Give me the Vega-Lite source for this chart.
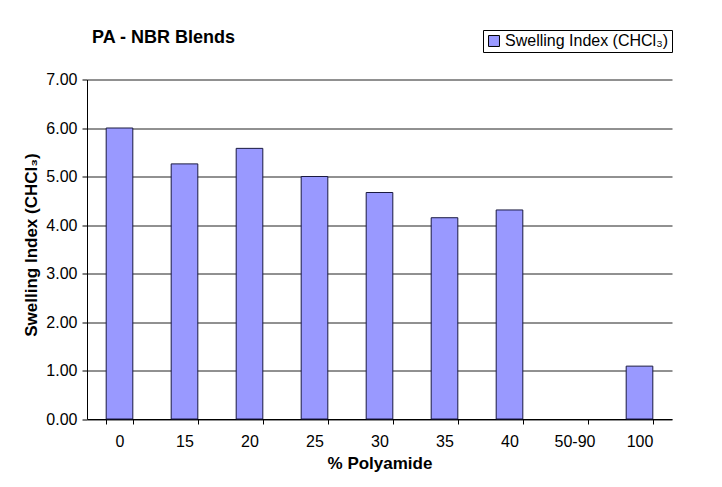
{
  "$schema": "https://vega.github.io/schema/vega-lite/v6.json",
  "autosize": "none",
  "width": 585,
  "height": 339.5,
  "padding": {"left": 87, "top": 79.5, "right": 50, "bottom": 68},
  "background": "white",
  "title": {
    "text": "PA - NBR Blends",
    "anchor": "start",
    "frame": "group",
    "orient": "top",
    "dx": 5,
    "offset": -31,
    "baseline": "alphabetic",
    "font": "Liberation Sans",
    "fontSize": 18,
    "fontWeight": "bold",
    "color": "black"
  },
  "data": {
    "values": [
      {"polyamide": "0", "swelling": 6.00},
      {"polyamide": "15", "swelling": 5.26},
      {"polyamide": "20", "swelling": 5.58},
      {"polyamide": "25", "swelling": 5.00},
      {"polyamide": "30", "swelling": 4.67},
      {"polyamide": "35", "swelling": 4.15},
      {"polyamide": "40", "swelling": 4.31},
      {"polyamide": "50-90", "swelling": null},
      {"polyamide": "100", "swelling": 1.09}
    ]
  },
  "mark": {"type": "bar", "stroke": "#1a1a40", "strokeWidth": 1},
  "encoding": {
    "x": {
      "field": "polyamide",
      "type": "ordinal",
      "sort": null,
      "scale": {
        "domain": ["0", "15", "20", "25", "30", "35", "40", "50-90", "100"],
        "paddingInner": 0.59,
        "paddingOuter": 0.295
      },
      "axis": {
        "title": "% Polyamide",
        "labelAngle": 0,
        "tickBand": "extent",
        "labelPadding": 9,
        "titlePadding": 6
      }
    },
    "y": {
      "field": "swelling",
      "type": "quantitative",
      "scale": {"domain": [0, 7], "nice": false},
      "axis": {
        "title": "Swelling Index (CHCl₃)",
        "values": [0, 1, 2, 3, 4, 5, 6, 7],
        "format": ".2f",
        "grid": true,
        "labelPadding": 5,
        "titleX": -51,
        "titleY": 165,
        "titleBaseline": "alphabetic"
      }
    },
    "color": {
      "datum": "Swelling Index (CHCl₃)",
      "type": "nominal",
      "scale": {"range": ["#9999FF"]},
      "legend": {
        "title": null,
        "orient": "none",
        "legendX": 396,
        "legendY": -49.5,
        "symbolType": "square",
        "symbolSize": 120,
        "symbolStrokeColor": "black",
        "symbolStrokeWidth": 1,
        "symbolOpacity": 1,
        "strokeColor": "black",
        "fillColor": "white",
        "padding": 3,
        "labelFont": "Liberation Sans",
        "labelFontSize": 16,
        "labelLimit": 300,
        "labelColor": "black",
        "labelOffset": 3
      }
    }
  },
  "config": {
    "view": {"stroke": null},
    "axis": {
      "labelFont": "Liberation Sans",
      "labelFontSize": 16,
      "labelColor": "black",
      "titleFont": "Liberation Sans",
      "titleFontSize": 17,
      "titleFontWeight": "bold",
      "titleColor": "black",
      "domainColor": "black",
      "domainWidth": 1,
      "tickColor": "black",
      "tickSize": 5,
      "gridColor": "#222222",
      "gridWidth": 1,
      "gridOpacity": 1
    },
    "axisX": {"grid": false}
  }
}
